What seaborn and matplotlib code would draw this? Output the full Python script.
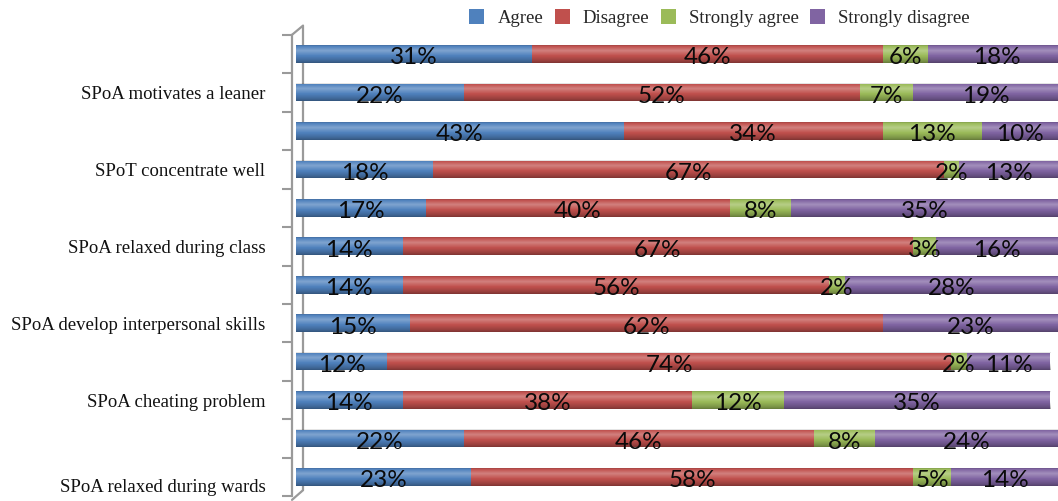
import numpy as np
import pandas as pd
import matplotlib
matplotlib.use("Agg")
import matplotlib.pyplot as plt
import seaborn as sns
from matplotlib.patches import Patch

# Response shares (%) per statement, top row first
series = ["Agree", "Disagree", "Strongly agree", "Strongly disagree"]
colors = ["#4F81BD", "#C0504D", "#9BBB59", "#8064A2"]
row_labels = ["", "SPoA motivates a leaner",
              "", "SPoT concentrate well",
              "", "SPoA relaxed during class",
              "", "SPoA develop interpersonal skills",
              "", "SPoA cheating problem",
              "", "SPoA relaxed during wards"]
agree = [31, 22, 43, 18, 17, 14, 14, 15, 12, 14, 22, 23]
disagree = [46, 52, 34, 67, 40, 67, 56, 62, 74, 38, 46, 58]
strongly_agree = [6, 7, 13, 2, 8, 3, 2, 0, 2, 12, 8, 5]
strongly_disagree = [18, 19, 10, 13, 35, 16, 28, 23, 11, 35, 24, 14]

sns.set_theme(style="white")
plt.rcParams["font.family"] = ["Liberation Serif", "DejaVu Sans"]

df = pd.DataFrame({
    "row": list(range(len(agree))),
    "Agree": agree,
    "Disagree": disagree,
    "Strongly agree": strongly_agree,
    "Strongly disagree": strongly_disagree,
})
cum = df[series].cumsum(axis=1)

fig = plt.figure(figsize=(10.58, 5.01), dpi=100)
ax = fig.add_axes([0.2798, 0.0096, 0.7202, 0.9209])

bar_w = 0.46
# stacked bars: draw cumulative totals from the outermost segment inwards
for name, color in reversed(list(zip(series, colors))):
    sns.barplot(x=cum[name], y=df["row"], orient="h", color=color,
                width=bar_w, saturation=1, edgecolor="none",
                linewidth=0, ax=ax, zorder=2)

# cylinder-like shading over each full bar
grad = np.zeros((64, 2, 4))
t = np.linspace(0, 1, 64)
shade = np.interp(t, [0, 0.06, 0.3, 0.6, 0.9, 1.0], [0.18, 0.0, -0.28, 0.0, 0.22, 0.35])
for i, s in enumerate(shade):
    if s >= 0:
        grad[i, :, :3] = 0.0
        grad[i, :, 3] = s
    else:
        grad[i, :, :3] = 1.0
        grad[i, :, 3] = -s
for r in range(len(df)):
    total = cum["Strongly disagree"].iloc[r]
    ax.imshow(grad, extent=(0, total, r + bar_w / 2, r - bar_w / 2),
              aspect="auto", zorder=3, interpolation="bilinear")

# value labels centred in each segment
for r in range(len(df)):
    for name in series:
        v = df[name].iloc[r]
        if v <= 0:
            continue
        xc = cum[name].iloc[r] - v / 2
        ax.text(xc, r + 0.27, f"{v}%", ha="center", va="baseline",
                fontsize=17.5, family=["Lato", "DejaVu Sans"],
                color="#0a0a0a", zorder=5)

ax.set_xlim(0, 100)
ax.set_ylim(len(df) - 0.5, -0.5)
ax.set_xlabel("")
ax.set_ylabel("")
ax.set_xticks([])
ax.set_yticks(range(len(df)))
# the bottom category name is placed separately, a little lower
ax.set_yticklabels(row_labels[:-1] + [""])
ax.set_yticks(np.arange(-0.5, len(df), 1.0), minor=True)
ax.tick_params(axis="y", which="major", length=0, pad=19, labelsize=13.5,
               labelcolor="#111111")
ax.tick_params(axis="y", which="minor", left=True, length=7.5, width=1.5,
               color="#9a9a9a", direction="out")
ax.annotate(row_labels[-1], xy=(0, len(df) - 1), xycoords=("axes fraction", "data"),
            xytext=(-22, -7.5), textcoords="offset points", ha="right",
            va="center", fontsize=13.5, color="#111111")

for side in ["top", "right", "bottom"]:
    ax.spines[side].set_visible(False)
ax.spines["left"].set_position(("outward", 3))
ax.spines["left"].set_color("#9a9a9a")
ax.spines["left"].set_linewidth(1.6)

# back wall edge of the category axis
xb, xf = 0.0092, -0.0053
wall = dict(color="#9a9a9a", lw=1.6, transform=ax.transAxes, clip_on=False, zorder=1)
ax.plot([xb, xb], [0.013, 1.02], **wall)
ax.plot([xf, xb], [1.0, 1.02], **wall)
ax.plot([xb, xf], [0.013, -0.008], **wall)

handles = [Patch(facecolor=c, edgecolor="none") for c in colors]
fig.legend(handles, series, ncol=4, loc="center", bbox_to_anchor=(0.68, 0.964),
           frameon=False, fontsize=13.5, handlelength=0.8, handleheight=0.8,
           handletextpad=0.7, columnspacing=0.6, borderpad=0.1)

fig.savefig("out.png", dpi=100)
